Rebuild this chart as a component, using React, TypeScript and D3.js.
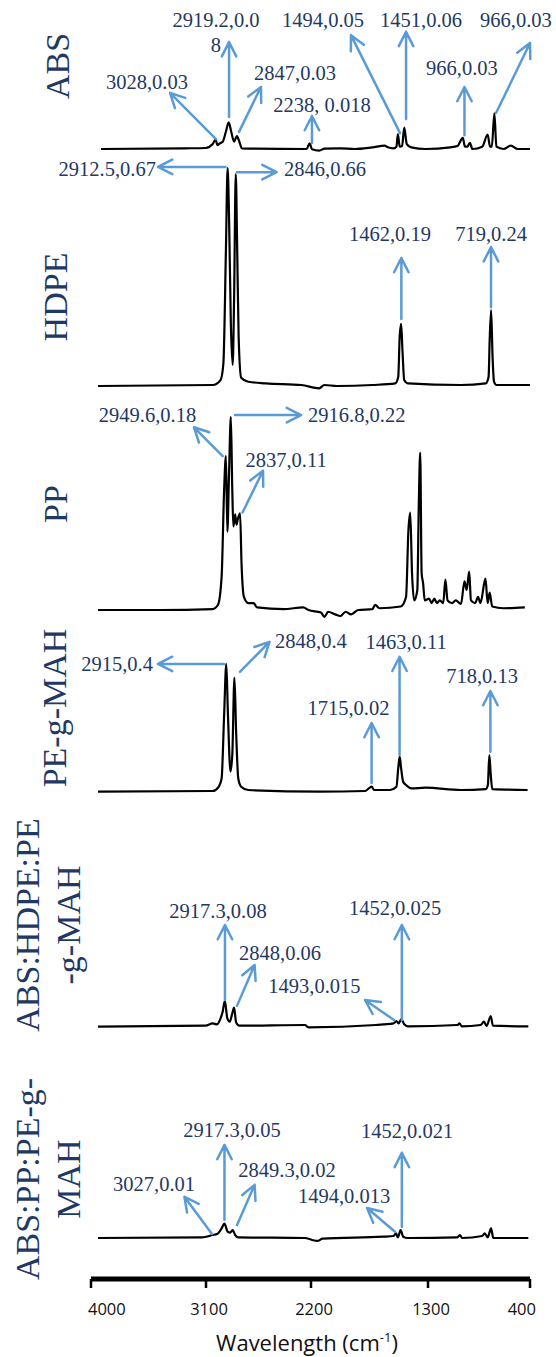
import React from "react";
import * as d3 from "d3";

type Pt = [number, number];
type Note = { lines: string[]; from: Pt; to: Pt; text: Pt; anchor?: string };

const panelNames: string[][] = [
  ["ABS"],
  ["HDPE"],
  ["PP"],
  ["PE-g-MAH"],
  ["ABS:HDPE:PE", "-g-MAH"],
  ["ABS:PP:PE-g-", "MAH"],
];

const tickValues = [4000, 3100, 2200, 1300, 400];
const axisTitle = "Wavelength (cm";
const axisTitleSup = "-1";

// [wavenumber, absorbance]
const absSpectrum: Pt[] = [
  [3975, 0], [3280, 0.002], [3103, 0.003], [3044, 0.015], [3020, 0.029], [3005, 0.012],
  [2985, 0.017], [2961, 0.022], [2934, 0.053], [2911, 0.081], [2890, 0.053], [2866, 0.022],
  [2843, 0.039], [2822, 0.022], [2801, 0.002], [2261, 0], [2237, 0.017], [2216, -0.001],
  [2157, -0.005], [2113, 0.001], [1980, 0.002], [1862, 0], [1714, 0.005], [1610, 0.01],
  [1590, 0.006], [1537, 0.002], [1513, 0.007], [1501, 0.045], [1486, 0.007], [1466, 0.009],
  [1448, 0.065], [1427, 0.015], [1389, 0.005], [1271, 0], [1064, 0.005], [1005, 0.009],
  [960, 0.034], [942, 0.007], [922, 0.007], [901, 0.019], [880, 0], [798, 0.007],
  [753, 0.044], [733, 0.007], [718, 0.007], [697, 0.108], [680, 0.007], [620, 0],
  [561, 0.01], [502, 0], [400, 0],
];

const hdpeSpectrum: Pt[] = [
  [4000, 0], [3044, 0.003], [2979, 0.018], [2955, 0.069], [2934, 0.412], [2920, 0.66],
  [2908, 0.513], [2893, 0.19], [2878, 0.064], [2866, 0.261], [2852, 0.642], [2840, 0.412],
  [2828, 0.149], [2807, 0.025], [2748, 0.013], [2600, 0.008], [2305, 0.003], [2157, -0.007],
  [2113, 0.003], [2009, 0], [1714, 0.003], [1522, 0.008], [1498, 0.028], [1486, 0.149],
  [1474, 0.188], [1463, 0.109], [1448, 0.018], [1418, 0.008], [975, 0.003], [768, 0.008],
  [745, 0.028], [736, 0.139], [724, 0.23], [712, 0.089], [700, 0.013], [680, 0.003], [400, 0.003],
];

const ppSpectrum: Pt[] = [
  [4000, 0], [3487, 0], [3044, 0.001], [3000, 0.006], [2970, 0.038], [2949, 0.138],
  [2934, 0.177], [2922, 0.09], [2908, 0.157], [2893, 0.222], [2881, 0.138], [2872, 0.096],
  [2857, 0.11], [2846, 0.098], [2834, 0.105], [2816, 0.111], [2804, 0.054], [2784, 0.015],
  [2748, 0.008], [2704, 0.008], [2674, 0.003], [2453, 0.001], [2290, 0.003], [2246, 0],
  [2142, -0.003], [2113, -0.008], [2083, -0.002], [2024, -0.005], [1980, -0.007], [1936, -0.002],
  [1891, -0.005], [1832, 0], [1714, 0.001], [1690, 0.006], [1655, 0.002], [1478, 0.004],
  [1433, 0.015], [1413, 0.092], [1398, 0.112], [1383, 0.042], [1365, 0.011], [1339, 0.023],
  [1327, 0.119], [1315, 0.181], [1303, 0.042], [1291, 0.031], [1277, 0.011], [1241, 0.013],
  [1220, 0.008], [1197, 0.013], [1176, 0.008], [1152, 0.011], [1123, 0.008], [1105, 0.035],
  [1087, 0.011], [1049, 0.008], [1019, 0.011], [975, 0.007], [946, 0.033], [928, 0.023],
  [907, 0.044], [892, 0.011], [857, 0.008], [833, 0.015], [813, 0.008], [771, 0.036],
  [753, 0.008], [736, 0.02], [715, 0.004], [621, 0.002], [443, 0.003],
];

const pegSpectrum: Pt[] = [
  [4000, 0.001], [3044, 0.003], [3000, 0.013], [2970, 0.041], [2949, 0.233], [2931, 0.388],
  [2917, 0.233], [2896, 0.062], [2881, 0.112], [2863, 0.347], [2849, 0.183], [2831, 0.041],
  [2807, 0.016], [2748, 0.006], [2157, 0.001], [1773, 0.003], [1743, 0.011], [1720, 0.016],
  [1699, 0.006], [1566, 0.006], [1513, 0.016], [1498, 0.072], [1486, 0.107], [1474, 0.072],
  [1457, 0.031], [1433, 0.021], [1389, 0.011], [1271, 0.013], [975, 0.006], [768, 0.009],
  [751, 0.021], [739, 0.112], [727, 0.052], [715, 0.009], [420, 0.006],
];

const blendHdpeSpectrum: Pt[] = [
  [4000, 0.001], [3103, 0.004], [3044, 0.011], [3008, 0.008], [2979, 0.026], [2961, 0.046],
  [2943, 0.079], [2922, 0.026], [2902, 0.016], [2881, 0.041], [2866, 0.059], [2849, 0.014],
  [2822, 0.004], [2275, 0.006], [2246, -0.001], [1684, 0.006], [1625, 0.008], [1537, 0.011],
  [1513, 0.018], [1495, 0.011], [1472, 0.024], [1448, 0.008], [1418, 0.002], [1005, 0.006],
  [987, 0.011], [969, 0.002], [812, 0.006], [783, 0.016], [762, 0.003], [727, 0.033],
  [709, 0.004], [414, 0.002],
];

const blendPpSpectrum: Pt[] = [
  [4000, 0], [3132, 0.002], [3044, 0.009], [3008, 0.012], [2970, 0.029], [2946, 0.044],
  [2920, 0.019], [2899, 0.016], [2878, 0.024], [2857, 0.009], [2831, 0.002], [2275, 0],
  [2216, -0.006], [2172, -0.009], [2128, -0.002], [1625, 0.004], [1537, 0.006], [1516, 0.014],
  [1501, 0.002], [1478, 0.024], [1457, 0.004], [1418, 0], [1005, 0.002], [984, 0.009],
  [966, 0], [798, 0.006], [777, 0.014], [753, 0.002], [724, 0.029], [706, 0], [414, 0],
];

const absNotes: Note[] = [
  { lines: ["3028,0.03"], from: [3017, 0.03], to: [3400, 0.17], text: [3592, 0.182] },
  { lines: ["2919.2,0.0", "8"], from: [2908, 0.097], to: [2908, 0.324], text: [3017, 0.37] },
  { lines: ["2847,0.03"], from: [2825, 0.052], to: [2642, 0.188], text: [2358, 0.209] },
  { lines: ["2238, 0.018"], from: [2217, 0.018], to: [2217, 0.1], text: [2133, 0.112] },
  { lines: ["1494,0.05"], from: [1483, 0.048], to: [1892, 0.345], text: [2125, 0.37] },
  { lines: ["1451,0.06"], from: [1433, 0.091], to: [1433, 0.355], text: [1308, 0.37] },
  { lines: ["966,0.03"], from: [946, 0.042], to: [946, 0.188], text: [967, 0.224] },
  { lines: ["966,0.03"], from: [683, 0.109], to: [400, 0.321], text: [517, 0.37] },
];

const hdpeNotes: Note[] = [
  { lines: ["2912.5,0.67"], from: [2937, 0.664], to: [3500, 0.664], text: [3517, 0.636], anchor: "end" },
  { lines: ["2846,0.66"], from: [2842, 0.648], to: [2512, 0.648], text: [2450, 0.636], anchor: "start" },
  { lines: ["1462,0.19"], from: [1472, 0.203], to: [1472, 0.388], text: [1567, 0.44] },
  { lines: ["719,0.24"], from: [725, 0.239], to: [725, 0.421], text: [725, 0.44] },
];

const ppNotes: Note[] = [
  { lines: ["2949.6,0.18"], from: [2961, 0.177], to: [3200, 0.21], text: [3588, 0.2164] },
  { lines: ["2916.8,0.22"], from: [2858, 0.224], to: [2308, 0.224], text: [2250, 0.2164], anchor: "start" },
  { lines: ["2837,0.11"], from: [2796, 0.112], to: [2625, 0.16], text: [2433, 0.1647] },
];

const pegNotes: Note[] = [
  { lines: ["2915,0.4"], from: [2950, 0.388], to: [3500, 0.388], text: [3542, 0.367], anchor: "end" },
  { lines: ["2848,0.4"], from: [2817, 0.364], to: [2571, 0.455], text: [2525, 0.437], anchor: "start" },
  { lines: ["1463,0.11"], from: [1487, 0.112], to: [1487, 0.41], text: [1433, 0.433] },
  { lines: ["1715,0.02"], from: [1720, 0.027], to: [1720, 0.209], text: [1913, 0.233] },
  { lines: ["718,0.13"], from: [730, 0.122], to: [730, 0.306], text: [800, 0.33] },
];

const blendHdpeNotes: Note[] = [
  { lines: ["2917.3,0.08"], from: [2942, 0.082], to: [2942, 0.309], text: [3000, 0.33] },
  { lines: ["2848,0.06"], from: [2842, 0.064], to: [2695, 0.188], text: [2483, 0.203] },
  { lines: ["1493,0.015"], from: [1533, 0.021], to: [1775, 0.082], text: [2196, 0.103] },
  { lines: ["1452,0.025"], from: [1468, 0.021], to: [1468, 0.309], text: [1525, 0.339] },
];

const blendPpNotes: Note[] = [
  { lines: ["2917.3,0.05"], from: [2946, 0.055], to: [2946, 0.282], text: [2883, 0.307] },
  { lines: ["2849.3,0.02"], from: [2842, 0.039], to: [2695, 0.161], text: [2425, 0.186] },
  { lines: ["3027,0.01"], from: [3050, 0.012], to: [3280, 0.125], text: [3533, 0.141] },
  { lines: ["1494,0.013"], from: [1525, 0.019], to: [1758, 0.091], text: [1950, 0.106] },
  { lines: ["1452,0.021"], from: [1468, 0.033], to: [1468, 0.258], text: [1425, 0.303] },
];

const W = 556;
const H = 1357;
const NAVY = "#1F3864";
const BLUE = "#5B9BD5";
const SERIF = "'Liberation Serif', 'Times New Roman', serif";
const SANS = "'Open Sans', 'Liberation Sans', sans-serif";

const panels = [
  { name: panelNames[0], data: absSpectrum, notes: absNotes, base: 149, k: 330, lx: [69], ly: 66 },
  { name: panelNames[1], data: hdpeSpectrum, notes: hdpeNotes, base: 386, k: 330, lx: [67], ly: 297 },
  { name: panelNames[2], data: ppSpectrum, notes: ppNotes, base: 610, k: 870, lx: [67], ly: 504 },
  { name: panelNames[3], data: pegSpectrum, notes: pegNotes, base: 792, k: 330, lx: [66], ly: 708 },
  { name: panelNames[4], data: blendHdpeSpectrum, notes: blendHdpeNotes, base: 1027, k: 330, lx: [38.5, 80], ly: 925 },
  { name: panelNames[5], data: blendPpSpectrum, notes: blendPpNotes, base: 1238, k: 330, lx: [38.5, 80], ly: 1179 },
];

const x = d3.scaleLinear().domain([4000, 400]).range([98, 530]);
const xAxis = d3.scaleLinear().domain(tickValues).range([91, 206, 311, 428, 530]);
const AXIS_Y = 1279;

function arrowPath(x1: number, y1: number, x2: number, y2: number) {
  const ang = Math.atan2(y2 - y1, x2 - x1);
  const L = 16;
  const a = 0.47;
  const p1 = [x2 - L * Math.cos(ang - a), y2 - L * Math.sin(ang - a)];
  const p2 = [x2 - L * Math.cos(ang + a), y2 - L * Math.sin(ang + a)];
  return `M${x1},${y1}L${x2},${y2}M${p1[0]},${p1[1]}L${x2},${y2}L${p2[0]},${p2[1]}`;
}

export default function App() {
  return (
    <svg
      width={W}
      height={H}
      viewBox={`0 0 ${W} ${H}`}
      style={{ position: "absolute", left: 0, top: 0, background: "#fff" }}
    >
      <rect x={0} y={0} width={W} height={H} fill="#fff" />
      {panels.map((p, pi) => {
        const y = d3.scaleLinear().domain([0, 1]).range([p.base, p.base - p.k]);
        const line = d3
          .line<Pt>()
          .x((d) => x(d[0]))
          .y((d) => y(d[1]))
          .curve(d3.curveMonotoneX);
        return (
          <g key={pi}>
            {p.name.map((nm, li) => (
              <text
                key={li}
                transform={`translate(${p.lx[li]},${p.ly}) rotate(-90)`}
                textAnchor="middle"
                fontFamily={SERIF}
                fontSize={34}
                fill={NAVY}
              >
                {nm}
              </text>
            ))}
            <path d={line(p.data) || ""} fill="none" stroke="#000" strokeWidth={2.2} strokeLinejoin="round" />
            {p.notes.map((n, ni) => (
              <g key={ni}>
                <path
                  d={arrowPath(x(n.from[0]), y(n.from[1]), x(n.to[0]), y(n.to[1]))}
                  fill="none"
                  stroke={BLUE}
                  strokeWidth={2.5}
                  strokeLinecap="round"
                  strokeLinejoin="round"
                />
                {n.lines.map((t, ti) => (
                  <text
                    key={ti}
                    x={x(n.text[0])}
                    y={y(n.text[1]) + ti * 25}
                    textAnchor={n.anchor || "middle"}
                    fontFamily={SERIF}
                    fontSize={20.5}
                    fill={NAVY}
                  >
                    {t}
                  </text>
                ))}
              </g>
            ))}
          </g>
        );
      })}
      <line
        x1={xAxis(4000)}
        x2={xAxis(400)}
        y1={AXIS_Y}
        y2={AXIS_Y}
        stroke="#000"
        strokeWidth={5}
      />
      {tickValues.map((t, i) => (
        <g key={t}>
          <line x1={xAxis(t)} x2={xAxis(t)} y1={AXIS_Y} y2={AXIS_Y + 9} stroke="#000" strokeWidth={2.5} />
          <text
            x={xAxis(t) + (i === 0 ? -3 : i === tickValues.length - 1 ? 6 : 3)}
            y={AXIS_Y + 36}
            textAnchor={i === 0 ? "start" : i === tickValues.length - 1 ? "end" : "middle"}
            fontFamily={SANS}
            fontSize={16.5}
            fill="#111"
          >
            {t}
          </text>
        </g>
      ))}
      <text x={307} y={1351} textAnchor="middle" fontFamily={SANS} fontSize={22} fill="#111">
        {axisTitle}
        <tspan fontSize={13} dy={-9}>
          {axisTitleSup}
        </tspan>
        <tspan dy={9}>)</tspan>
      </text>
    </svg>
  );
}
